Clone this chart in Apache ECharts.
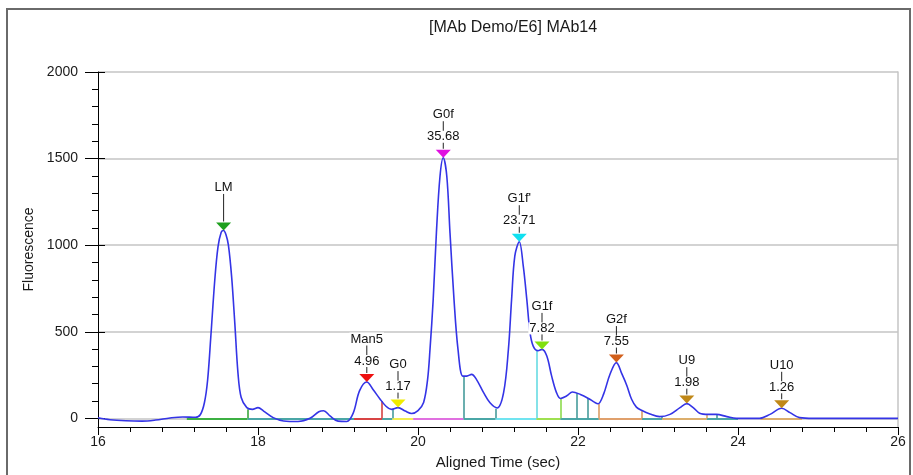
<!DOCTYPE html>
<html><head><meta charset="utf-8">
<script src="https://cdn.jsdelivr.net/npm/echarts@6/dist/echarts.min.js"></script>
<style>html,body{margin:0;padding:0;background:#fff}#c{width:913px;height:475px}</style>
</head><body><div id="c"></div>
<script>
// ---- electropherogram trace (time in sec, fluorescence) ----
const times = [16.00,16.15,16.35,16.55,16.72,16.90,17.06,17.22,17.28,17.33,17.37,17.41,17.46,17.50,17.54,17.57,17.60,17.63,17.67,17.71,17.75,17.79,17.86,17.93,18.00,18.07,18.19,18.32,18.50,18.65,18.76,18.82,18.90,19.00,19.11,19.19,19.27,19.36,19.44,19.52,19.60,19.67,19.75,19.84,19.92,20.00,20.07,20.12,20.15,20.19,20.23,20.275,20.316,20.36,20.40,20.45,20.50,20.56,20.61,20.67,20.73,20.82,20.90,20.99,21.07,21.13,21.17,21.21,21.266,21.316,21.36,21.40,21.44,21.50,21.55,21.61,21.67,21.73,21.78,21.86,21.93,22.03,22.13,22.21,22.25,22.32,22.40,22.48,22.55,22.61,22.67,22.73,22.80,22.90,23.02,23.15,23.275,23.36,23.44,23.52,23.63,23.73,23.86,23.98,24.27,24.40,24.546,24.65,24.77,24.94,26.00];
const intensity = [3,-8,-14,-16,-10,2,8,6,22,90,220,470,800,990,1075,1085,1060,1000,820,550,260,120,62,52,62,42,4,-15,-18,0,38,44,14,-16,-18,30,160,210,165,115,70,52,62,42,28,45,92,225,398,687,1071,1398,1505,1398,1071,687,398,244,244,254,225,148,90,60,148,398,687,937,1020,879,687,496,417,390,398,360,245,150,115,130,152,138,115,92,84,140,255,322,255,190,110,65,45,25,10,23,62,85,62,30,23,23,10,0,0,23,58,33,4,0,0];

// ---- identified peaks ----
const peakNames   = ['LM','Man5','G0','G0f',"G1f'",'G1f','G2f','U9','U10'];
const peakTimes   = [17.57,19.36,19.75,20.316,21.266,21.55,22.48,23.36,24.546];
const peakHeights = [1085,210,62,1505,1020,398,322,85,58];
const peakAreas   = ['','4.96','1.17','35.68','23.71','7.82','7.55','1.98','1.26'];

// ---- integration baseline segments ('' = unassigned) ----
const segStart = [17.11,17.87,19.20,19.55,19.68,19.94,20.57,20.97,21.48,21.78,22.26,22.80,23.05,23.61,24.28];
const segEnd   = [17.87,19.20,19.55,19.68,19.94,20.57,20.97,21.48,21.78,22.26,22.80,23.05,23.61,24.00,24.80];
const segPeak  = ['LM','','Man5','','G0','G0f','',"G1f'",'G1f','','G2f','','U9','','U10'];

// ---- drop lines at peak boundaries ----
const dropTimes   = [17.87,19.55,19.68,20.57,20.97,21.48,21.78,21.99,22.12,22.26,22.80,23.05,23.61,23.73];
const dropHeights = [52,100,55,244,55,398,112,145,118,84,45,10,23,23];
const dropPeak    = ['LM','Man5','','','',"G1f'",'G1f','','','G2f','G2f','','U9',''];

// ---- axis ticks ----
const xMin = 16, xMax = 26, xStep = 2;
const yMajor = [0,500,1000,1500,2000];
const yMinor = [100,200,300,400,600,700,800,900,1100,1200,1300,1400,1600,1700,1800,1900];

// ---- styles ----
const FONT = '"Liberation Sans", Arial, sans-serif';
const markerColor = {'LM':'#1ea01e','Man5':'#ee1111','G0':'#f0ec00','G0f':'#e010e0',"G1f'":'#10e0f0','G1f':'#80e010','G2f':'#d2601c','U9':'#c08818','U10':'#c08818'};
const baseColor = {'':'#4aa6a6','LM':'#3cb043','Man5':'#d84444','G0':'#f2ee50','G0f':'#e070e0',"G1f'":'#70e4f0','G1f':'#9ee050','G2f':'#e0a06c','U9':'#dcae6c','U10':'#dcae6c'};
const dropColor = {'':'#3a9494','LM':'#2ea030','Man5':'#d23434',"G1f'":'#5cd8e0','G1f':'#84d840','G2f':'#d8965a','U9':'#d8a45a'};

const curve = times.map((t,i)=>[t,intensity[i]]);
const peakPts = peakNames.map((n,i)=>({name:n, value:[peakTimes[i],peakHeights[i]], itemStyle:{color:markerColor[n], opacity:1}}));
const areaPts = peakNames.map((n,i)=>({name:peakAreas[i], value:[peakTimes[i],peakHeights[i]]})).filter(d=>d.name!=='');
const segData = segStart.map((s,i)=>({coords:[[s,0],[segEnd[i],0]], lineStyle:{color:baseColor[segPeak[i]]}}));
const dropData = dropTimes.map((t,i)=>({coords:[[t,0],[t,dropHeights[i]]], lineStyle:{color:dropColor[dropPeak[i]]}}));

const labelStyle = {show:true, position:'inside', formatter:'{b}', fontSize:13, color:'#111', fontFamily:FONT,
  backgroundColor:'#fff', padding:[0,1], opacity:1};
const yBase = {type:'value', min:-50, max:2000, gridIndex:0, position:'left'};
const chart = echarts.init(document.getElementById('c'));
chart.setOption({
  animation:false,
  textStyle:{fontFamily:FONT},
  title:{text:'[MAb Demo/E6] MAb14', left:424, top:15, textStyle:{fontFamily:FONT, fontSize:16, fontWeight:'normal', color:'#1a1a1a'}},
  grid:{left:98, right:15, top:72, bottom:48, containLabel:false},
  xAxis:{type:'value', min:xMin, max:xMax, interval:xStep,
    axisLine:{onZero:false, lineStyle:{color:'#000', width:1}},
    axisTick:{length:8, lineStyle:{color:'#000'}},
    minorTick:{show:true, splitNumber:5, length:5, lineStyle:{color:'#000'}},
    axisLabel:{margin:8, fontSize:14, color:'#1a1a1a', fontFamily:FONT, formatter:v=>String(v)},
    splitLine:{show:false},
    name:'Aligned Time (sec)', nameLocation:'middle', nameGap:28,
    nameTextStyle:{fontSize:15, color:'#1a1a1a', fontFamily:FONT}},
  yAxis:[
    Object.assign({}, yBase, {
      axisLine:{show:true, lineStyle:{color:'#000'}},
      axisTick:{show:true, customValues:yMajor, length:13, lineStyle:{color:'#000'}},
      axisLabel:{customValues:yMajor, margin:20, fontSize:14, color:'#1a1a1a', fontFamily:FONT, formatter:v=>String(v)},
      splitLine:{show:true, lineStyle:{color:'#c4c4c4', width:1.5}},
      name:'Fluorescence', nameLocation:'middle', nameGap:59,
      nameTextStyle:{fontSize:14, color:'#1a1a1a', fontFamily:FONT}}),
    Object.assign({}, yBase, {
      axisLine:{show:false},
      axisTick:{show:true, inside:true, customValues:yMajor, length:7, lineStyle:{color:'#000'}},
      axisLabel:{show:false}, splitLine:{show:false}}),
    Object.assign({}, yBase, {
      axisLine:{show:false},
      axisTick:{show:true, customValues:yMinor, length:6, lineStyle:{color:'#000'}},
      axisLabel:{show:false}, splitLine:{show:false}}),
    Object.assign({}, yBase, {position:'right',
      axisLine:{show:true, lineStyle:{color:'#c4c4c4', width:1.5}},
      axisTick:{show:false}, axisLabel:{show:false}, splitLine:{show:false}})
  ],
  graphic:[{type:'rect', silent:true, z:100, shape:{x:7, y:9, width:903, height:480},
    style:{fill:'none', stroke:'#6a6a6a', lineWidth:2}}],
  series:[
    {type:'lines', coordinateSystem:'cartesian2d', xAxisIndex:0, yAxisIndex:0, z:2,
      lineStyle:{width:2, opacity:1}, data:segData, silent:true},
    {type:'lines', coordinateSystem:'cartesian2d', xAxisIndex:0, yAxisIndex:0, z:2,
      lineStyle:{width:1.5, opacity:1}, data:dropData, silent:true},
    {type:'line', data:curve, showSymbol:false, smooth:0.35, z:3, xAxisIndex:0, yAxisIndex:0,
      lineStyle:{color:'#3434e6', width:1.6}, silent:true},
    // stems
    {type:'scatter', data:peakPts.map(p=>({value:p.value})), symbol:'rect', symbolSize:[1,34], symbolOffset:[0,-26],
      itemStyle:{color:'#222', opacity:1}, z:4, silent:true},
    // name labels
    {type:'scatter', data:peakPts.map(p=>({name:p.name, value:p.value})), symbolSize:1, itemStyle:{color:'rgba(0,0,0,0)', opacity:1}, z:5, silent:true,
      label:Object.assign({}, labelStyle, {offset:[0,-43], lineHeight:13})},
    // area labels
    {type:'scatter', data:areaPts, symbolSize:1, itemStyle:{color:'rgba(0,0,0,0)', opacity:1}, z:5, silent:true,
      label:Object.assign({}, labelStyle, {offset:[0,-21], lineHeight:12})},
    // triangles
    {type:'scatter', data:peakPts, symbol:'triangle', symbolRotate:180, symbolSize:[15,8], symbolOffset:[0,-4], z:6, silent:true,
      itemStyle:{opacity:1}}
  ]
});
</script></body></html>
